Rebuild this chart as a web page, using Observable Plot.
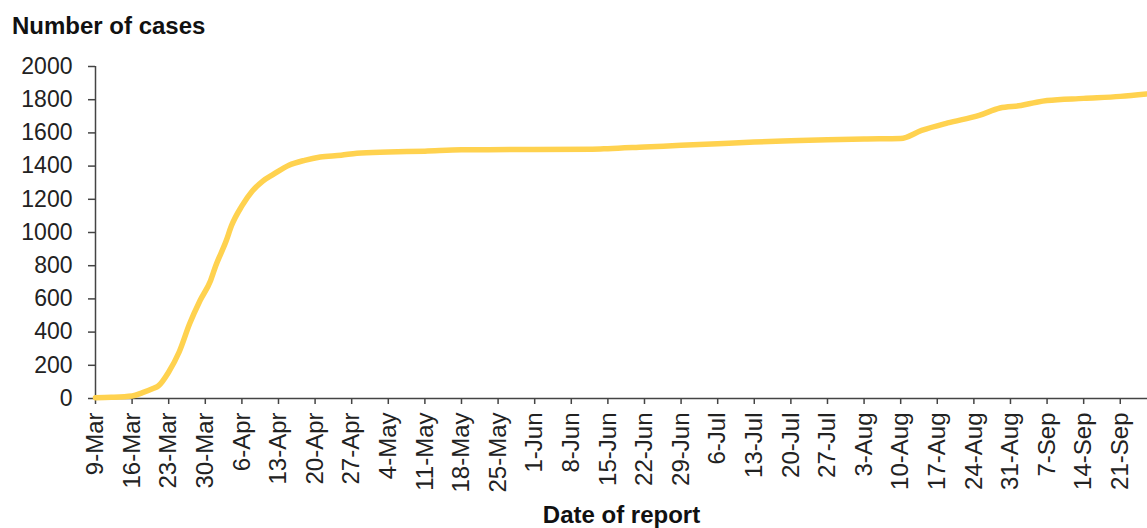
<!DOCTYPE html>
<html>
<head>
<meta charset="utf-8">
<script src="https://cdn.jsdelivr.net/npm/d3@7"></script>
<script src="https://cdn.jsdelivr.net/npm/@observablehq/plot@0.6"></script>
<style>
  body { margin: 0; background: #fff; font-family: "Liberation Sans", Arial, sans-serif; }
  #title { height: 46px; box-sizing: border-box; padding: 14px 0 0 12px; font-size: 24px; font-weight: bold; color: #111; line-height: 24px; white-space: nowrap; }
  #chart svg g[aria-label="x-axis label"] text { font-weight: bold; font-size: 24px; fill: #111; }
  #chart svg g[aria-label="y-axis tick label"] text, #chart svg g[aria-label="x-axis tick label"] text { fill: #222; }
</style>
</head>
<body>
<div id="title">Number of cases</div>
<div id="chart"></div>
<script>
const dates = ["2020-03-09","2020-03-12","2020-03-16","2020-03-18","2020-03-20","2020-03-21","2020-03-23","2020-03-25","2020-03-27","2020-03-29","2020-03-31","2020-04-01","2020-04-03","2020-04-04","2020-04-06","2020-04-08","2020-04-10","2020-04-12","2020-04-15","2020-04-18","2020-04-21","2020-04-25","2020-04-28","2020-05-04","2020-05-11","2020-05-18","2020-06-01","2020-06-12","2020-06-15","2020-06-22","2020-06-29","2020-07-06","2020-07-13","2020-07-20","2020-07-27","2020-08-03","2020-08-10","2020-08-14","2020-08-19","2020-08-25","2020-08-29","2020-09-02","2020-09-05","2020-09-07","2020-09-14","2020-09-21","2020-09-26"];
const cases = [5,7,15,35,60,75,160,280,450,590,710,800,950,1040,1160,1250,1310,1350,1405,1435,1455,1465,1478,1485,1490,1498,1500,1502,1505,1515,1525,1535,1545,1552,1558,1563,1566,1615,1660,1705,1750,1765,1785,1795,1808,1820,1835];
const yTicks = [0,200,400,600,800,1000,1200,1400,1600,1800,2000];
const xTickStart = "2020-03-09";
const xTickEnd = "2020-09-21";
const xDomainEnd = "2020-09-26T05:00:00Z";

const data = dates.map((d, i) => ({date: new Date(d + "T00:00:00Z"), value: cases[i]}));
const x0 = new Date(xTickStart + "T00:00:00Z");
const xTicks = d3.utcDay.range(x0, new Date(new Date(xTickEnd + "T00:00:00Z").getTime() + 1), 7);

const plot = Plot.plot({
  width: 1147,
  height: 482,
  marginLeft: 95,
  marginRight: 0,
  marginTop: 20,
  marginBottom: 130,
  style: {fontFamily: "'Liberation Sans', Arial, sans-serif", fontSize: "23px", color: "#222", background: "#fff", overflow: "visible"},
  x: {type: "utc", domain: [x0, new Date(xDomainEnd)]},
  y: {domain: [0, 2000]},
  marks: [
    Plot.axisY({ticks: yTicks, tickFormat: d3.format("d"), fontSize: 23, tickSize: 7, tickPadding: 16, label: null, stroke: "#444", strokeWidth: 1.5}),
    Plot.axisX({ticks: xTicks, tickFormat: d3.utcFormat("%-d-%b"), fontSize: 24, tickRotate: -90, tickSize: 6, tickPadding: 8,
                stroke: "#444", strokeWidth: 1.5, label: "Date of report", labelAnchor: "center", labelArrow: "none", labelOffset: 124}),
    Plot.ruleX([x0], {stroke: "#444", strokeWidth: 1.5}),
    Plot.ruleY([0], {stroke: "#444", strokeWidth: 1.5}),
    Plot.line(data, {x: "date", y: "value", stroke: "#FFD24F", strokeWidth: 5.5, curve: "monotone-x", strokeLinejoin: "round", strokeLinecap: "round"})
  ]
});
document.getElementById("chart").appendChild(plot);
</script>
</body>
</html>
